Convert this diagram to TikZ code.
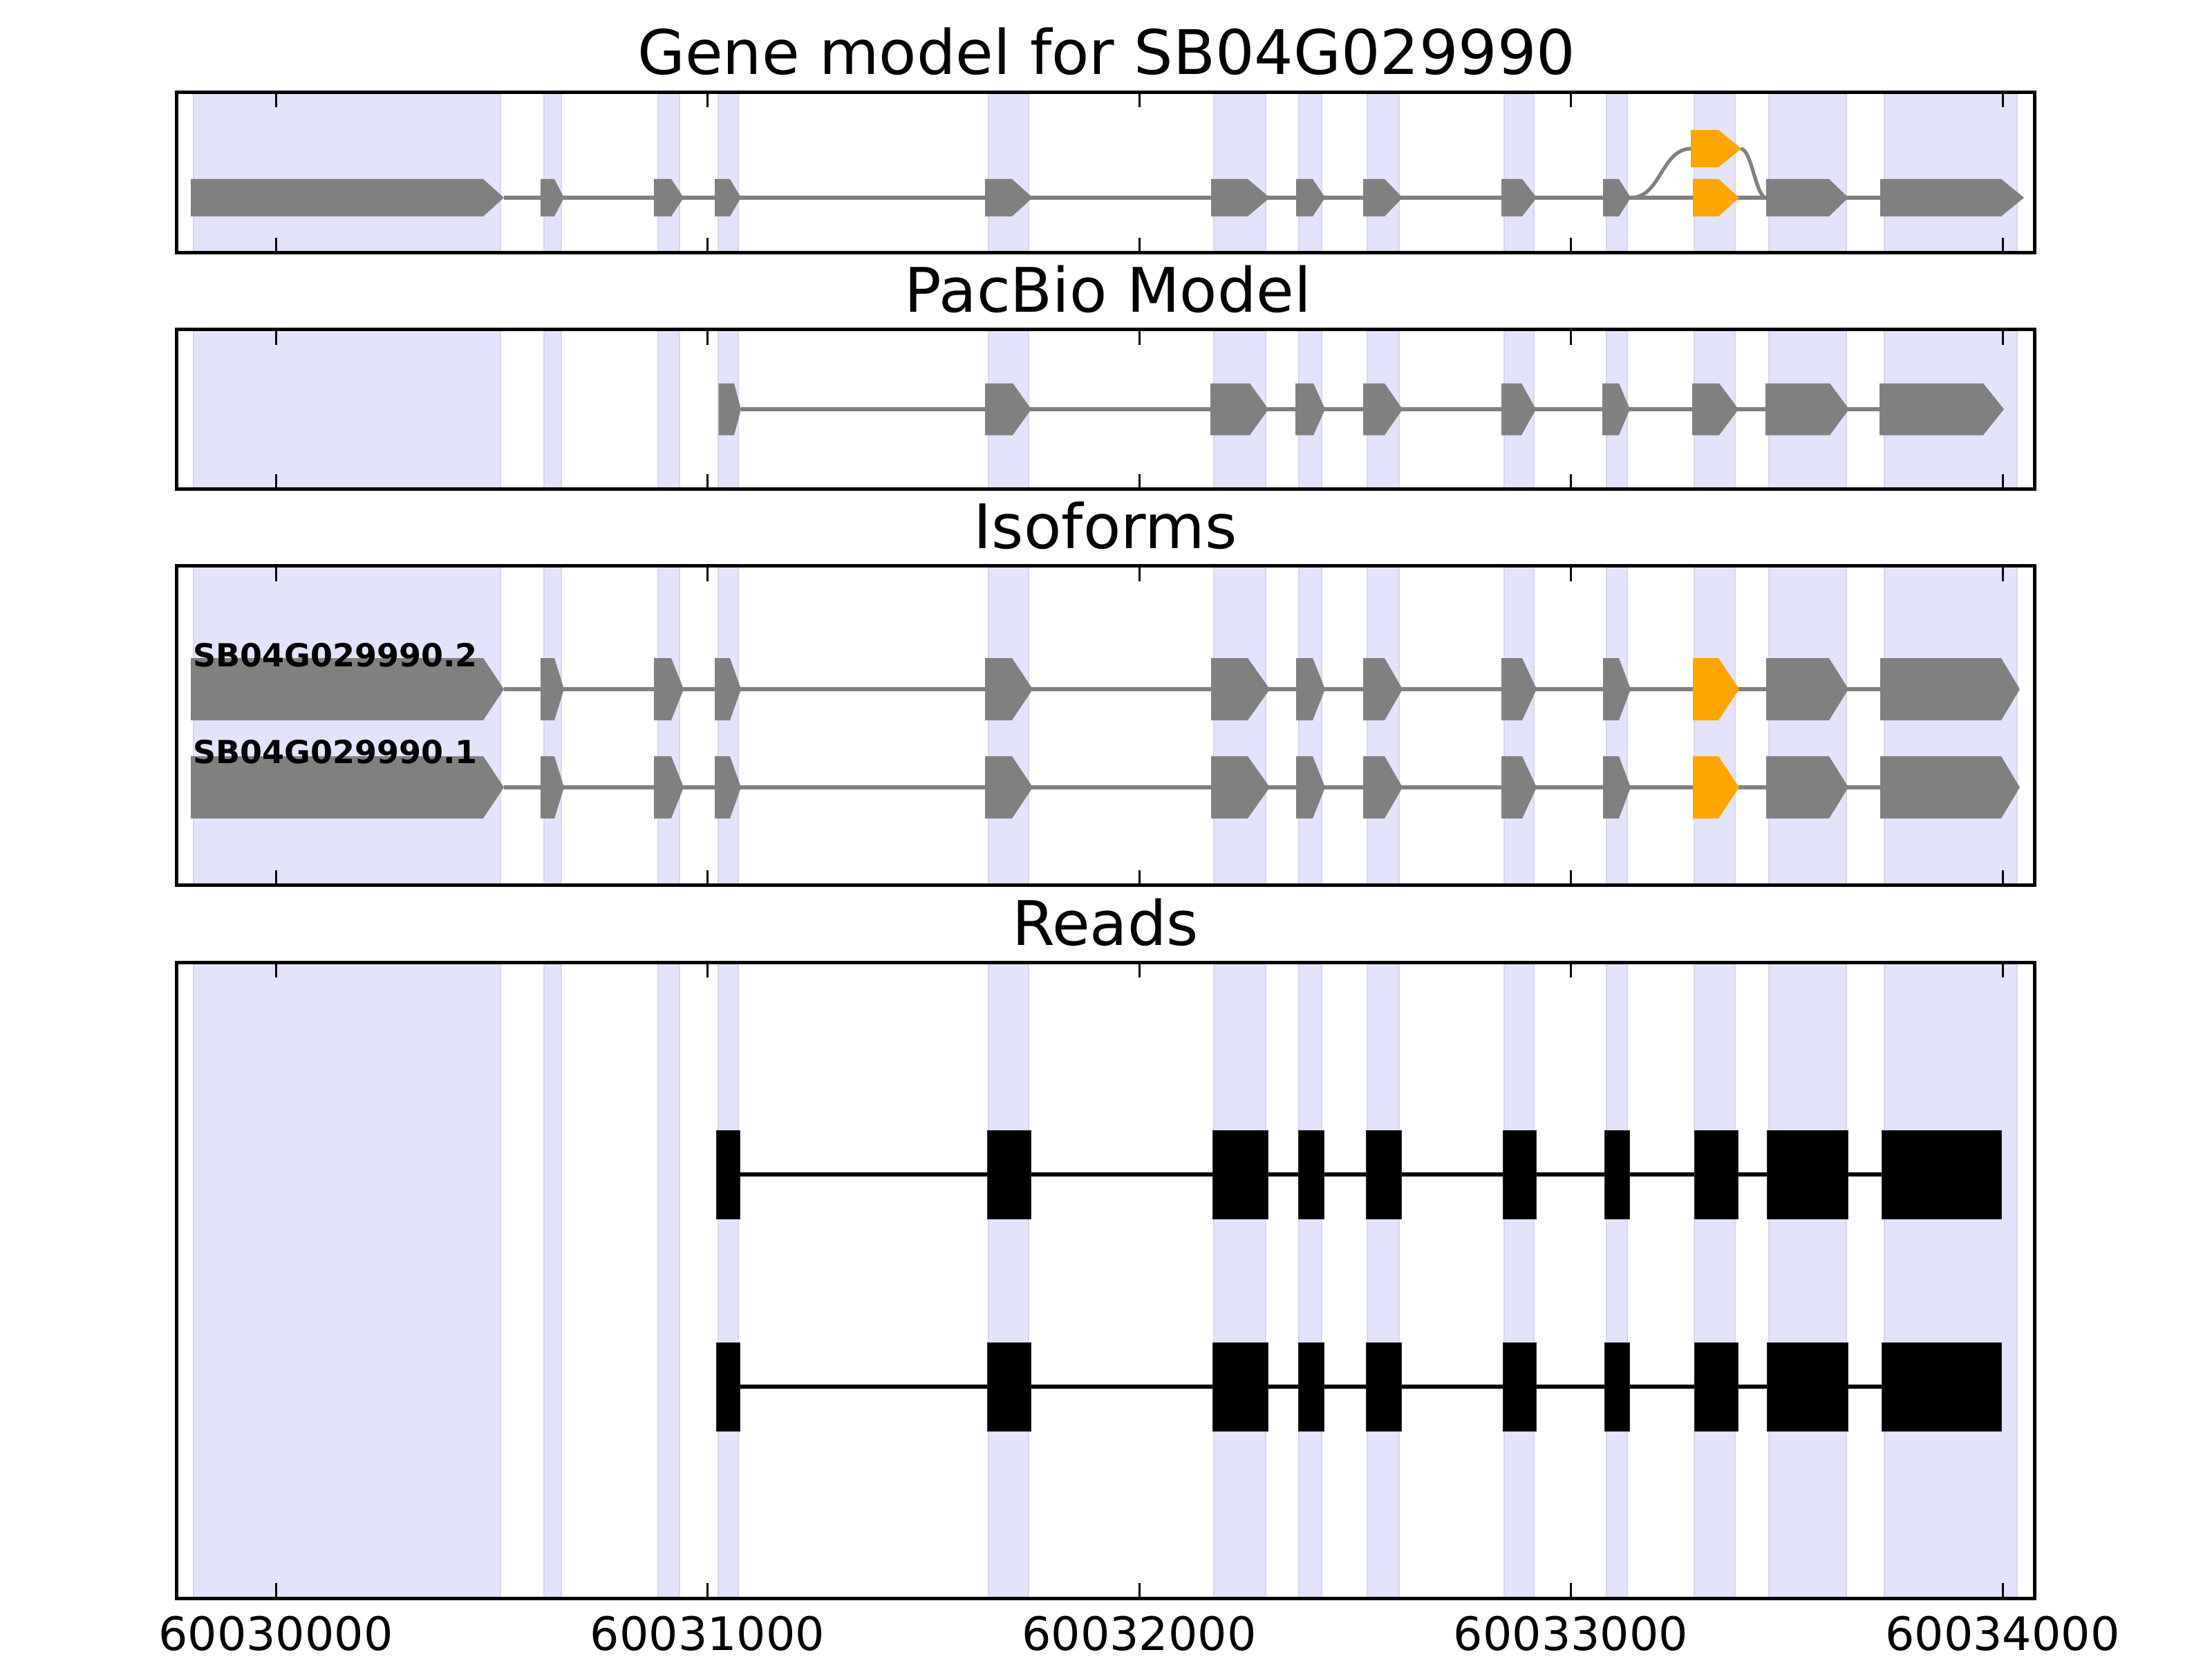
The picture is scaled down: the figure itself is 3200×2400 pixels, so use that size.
\documentclass[tikz,border=0pt]{standalone}
\usepackage{fontspec}
\setmainfont{DejaVu Sans}
\definecolor{band}{HTML}{E3E3FB}
\definecolor{bandedge}{HTML}{D6D6EC}
\definecolor{exgray}{HTML}{808080}
\definecolor{exorange}{HTML}{FFA500}
\newcommand{\exarrow}[6]{\fill[#6] (#1,{#4-#5/2}) -- (#2,{#4-#5/2}) -- (#3,#4) -- (#2,{#4+#5/2}) -- (#1,{#4+#5/2}) -- cycle;}
\newcommand{\bandset}[2]{\foreach \a/\b in {280/724,787/812,952/983,1039/1068,1430/1488,1756/1831,1879/1912,1978/2024,2176/2219,2324/2354,2451/2510,2559/2671,2726/2918}{\filldraw[fill=band,draw=bandedge,line width=2.5] (\a,#1) rectangle (\b,#2);}}
\newcommand{\axframe}[2]{\draw[line width=5] (255.5,#1) rectangle (2943.5,#2);
  \foreach \t in {399,1023.5,1648,2272.5,2897}{\draw[line width=3] (\t,#1) -- ++(0,22); \draw[line width=3] (\t,#2) -- ++(0,-22);}}
\newcommand{\generow}[3]{%
  \exarrow{276}{699}{729}{#1}{#2}{exgray}
  \exarrow{782}{802}{816}{#1}{#2}{exgray}
  \exarrow{946}{971}{989}{#1}{#2}{exgray}
  \exarrow{1034}{1056}{1072}{#1}{#2}{exgray}
  \exarrow{1425}{1464}{1494}{#1}{#2}{exgray}
  \exarrow{1752}{1805}{1837}{#1}{#2}{exgray}
  \exarrow{1875}{1899}{1917}{#1}{#2}{exgray}
  \exarrow{1972}{2003}{2029}{#1}{#2}{exgray}
  \exarrow{2172}{2202}{2223}{#1}{#2}{exgray}
  \exarrow{2319}{2342}{2359}{#1}{#2}{exgray}
  \exarrow{2449}{2486}{2516}{#1}{#2}{exorange}
  \exarrow{2555}{2646}{2674}{#1}{#2}{exgray}
  \exarrow{2720}{2895}{#3}{#1}{#2}{exgray}}
\newcommand{\readrow}[1]{\foreach \a/\b in {1036/1070,1428/1491,1754/1834,1878/1915,1976/2027,2174/2222,2321/2357,2451/2514,2556/2673,2722/2895}{\filldraw[fill=black,draw=black!85,line width=1] (\a,{#1-64}) rectangle (\b,{#1+64});}}
\tikzset{
  ttl/.style={inner sep=0pt, anchor=base, font=\fontsize{88.9}{100}\selectfont},
  tkl/.style={inner sep=0pt, anchor=base, font=\fontsize{66.7}{80}\selectfont},
  lbl/.style={inner sep=0pt, anchor=base west, font=\fontsize{46}{52}\selectfont\bfseries},
  intron/.style={exgray, line width=5.2},
  rintron/.style={black, line width=5.8}
}
\begin{document}
\begin{tikzpicture}[x=1pt,y=-1pt]
\useasboundingbox[fill=white] (0,0) rectangle (3200,2400);
% Panel 1: gene model
\bandset{133.5}{365.5}
\draw[intron] (729,286) -- (2720,286);
\draw[intron] (2359,286) .. controls (2403,286) and (2403,215) .. (2447,215);
\draw[intron] (2518,215) .. controls (2534,215) and (2540,286) .. (2555,286);
\generow{286}{54}{2928}
\exarrow{2446}{2486}{2519}{215}{54}{exorange}
\axframe{133.5}{365.5}
\node[ttl] (t1) at (1601,108) {Gene model for SB04G029990};
% Panel 2: PacBio
\bandset{476.5}{707.5}
\draw[intron] (1072,592) -- (2719,592);
\foreach \a/\b/\c in {1039.5/1062/1072,1425/1465/1492,1751/1808/1835,1874/1900/1917,1972/2003/2029,2172/2201/2222,2318/2342/2358,2448/2487/2515,2554/2647/2675,2719/2869/2899}{\exarrow{\a}{\b}{\c}{592}{75}{exgray}}
\axframe{476.5}{707.5}
\node[ttl] (t2) at (1603,451) {PacBio Model};
% Panel 3: isoforms
\bandset{818.5}{1280.5}
\draw[intron] (729,997) -- (2722,997);
\draw[intron] (729,1139) -- (2722,1139);
\generow{997}{90}{2922}
\generow{1139}{90}{2922}
\node[lbl] (l2) at (279,964) {SB04G029990.2};
\node[lbl] (l1) at (279,1104) {SB04G029990.1};
\axframe{818.5}{1280.5}
\node[ttl] (t3) at (1599,793) {Isoforms};
% Panel 4: reads
\bandset{1392}{2312}
\draw[rintron] (1070,1699) -- (2722,1699);
\draw[rintron] (1070,2006) -- (2722,2006);
\readrow{1699}
\readrow{2006}
\axframe{1392}{2312}
\node[ttl] (t4) at (1599,1367) {Reads};
% tick labels
\node[tkl] (x0) at (399,2387) {60030000};
\node[tkl] (x1) at (1023.5,2387) {60031000};
\node[tkl] (x2) at (1648,2387) {60032000};
\node[tkl] (x3) at (2272.5,2387) {60033000};
\node[tkl] (x4) at (2897,2387) {60034000};
\end{tikzpicture}
\end{document}
